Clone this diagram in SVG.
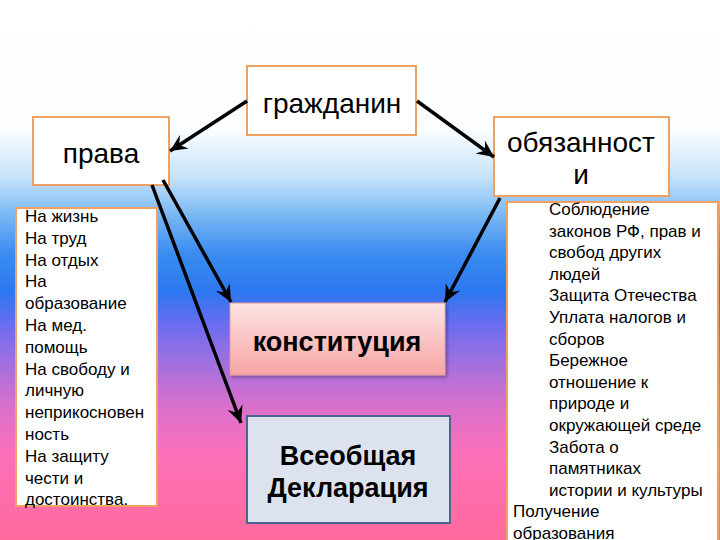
<svg xmlns="http://www.w3.org/2000/svg" width="720" height="540" viewBox="0 0 720 540">
<defs>
<linearGradient id="bg" x1="0" y1="0" x2="0" y2="1">
<stop offset="0" stop-color="#ffffff"/>
<stop offset="0.24" stop-color="#fbfdff"/>
<stop offset="0.33" stop-color="#c4e2fa"/>
<stop offset="0.40" stop-color="#78b6f4"/>
<stop offset="0.47" stop-color="#3a8cf0"/>
<stop offset="0.54" stop-color="#2c78f0"/>
<stop offset="0.60" stop-color="#6a6cf0"/>
<stop offset="0.67" stop-color="#a070e0"/>
<stop offset="0.75" stop-color="#d870cc"/>
<stop offset="0.84" stop-color="#fc70b8"/>
<stop offset="1" stop-color="#ff6a9e"/>
</linearGradient>
<linearGradient id="pink" x1="0" y1="0" x2="0" y2="1">
<stop offset="0" stop-color="#fde4e4"/>
<stop offset="1" stop-color="#f7a4a4"/>
</linearGradient>
<filter id="sh" x="-10%" y="-10%" width="130%" height="130%">
<feDropShadow dx="2" dy="2" stdDeviation="1.5" flood-color="#000" flood-opacity="0.3"/>
</filter>
<marker id="ah" markerUnits="userSpaceOnUse" markerWidth="20" markerHeight="20" viewBox="-18 -10 20 20" refX="0" refY="0" orient="auto">
<path d="M0,0 L-17,-8 L-11,0 L-17,8 Z" fill="#000"/>
</marker>
<style>
.node{fill:#fff;stroke:#f0a060;stroke-width:2}
.t{font-family:"Liberation Sans",Arial,sans-serif;fill:#000}
.big{font-size:28px;text-anchor:middle}
.bold{font-size:27px;font-weight:bold;text-anchor:middle}
.list{font-size:17px}
.conn{stroke:#000;stroke-width:3.5;fill:none;marker-end:url(#ah)}
</style>
</defs>
<rect x="0" y="0" width="720" height="540" fill="url(#bg)"/>

<g id="grazhdanin">
<rect class="node" x="247" y="66" width="169" height="69"/>
<text class="t big" x="332" y="113">гражданин</text>
</g>

<g id="prava">
<rect class="node" x="33" y="117" width="136" height="68"/>
<text class="t big" x="101" y="163">права</text>
</g>

<g id="obyazannosti">
<rect class="node" x="494" y="117" width="175" height="79"/>
<text class="t big" x="581" y="152">обязанност</text>
<text class="t big" x="581" y="184">и</text>
</g>

<g id="prava-list">
<rect class="node" x="16" y="208" width="141" height="298"/>
<text class="t list" x="25">
<tspan x="25" y="222">На жизнь</tspan>
<tspan x="25" y="243.8">На труд</tspan>
<tspan x="25" y="265.6">На отдых</tspan>
<tspan x="25" y="287.4">На</tspan>
<tspan x="25" y="309.2">образование</tspan>
<tspan x="25" y="331">На мед.</tspan>
<tspan x="25" y="352.8">помощь</tspan>
<tspan x="25" y="374.6">На свободу и</tspan>
<tspan x="25" y="396.4">личную</tspan>
<tspan x="25" y="418.2">неприкосновен</tspan>
<tspan x="25" y="440">ность</tspan>
<tspan x="25" y="461.8">На защиту</tspan>
<tspan x="25" y="483.6">чести и</tspan>
<tspan x="25" y="505.4">достоинства.</tspan>
</text>
</g>

<g id="obyaz-list">
<rect class="node" x="507" y="202" width="211" height="345"/>
<text class="t list">
<tspan x="549" y="215">Соблюдение</tspan>
<tspan x="549" y="236.6">законов РФ, прав и</tspan>
<tspan x="549" y="258.2">свобод других</tspan>
<tspan x="549" y="279.8">людей</tspan>
<tspan x="549" y="301.4">Защита Отечества</tspan>
<tspan x="549" y="323">Уплата налогов и</tspan>
<tspan x="549" y="344.6">сборов</tspan>
<tspan x="549" y="366.2">Бережное</tspan>
<tspan x="549" y="387.8">отношение к</tspan>
<tspan x="549" y="409.4">природе и</tspan>
<tspan x="549" y="431">окружающей среде</tspan>
<tspan x="549" y="452.6">Забота о</tspan>
<tspan x="549" y="474.2">памятниках</tspan>
<tspan x="549" y="495.8">истории и культуры</tspan>
<tspan x="513" y="517.4">Получение</tspan>
<tspan x="513" y="539">образования</tspan>
</text>
</g>

<g id="konstitutsiya">
<rect x="230" y="303" width="215" height="72" fill="url(#pink)" stroke="#e09a9a" stroke-width="1" filter="url(#sh)"/>
<text class="t bold" x="337" y="351">конституция</text>
</g>

<g id="deklaratsiya">
<rect x="247" y="416" width="203" height="107" fill="#dce3ef" stroke="#4f6290" stroke-width="2"/>
<text class="t bold" x="348" y="465">Всеобщая</text>
<text class="t bold" x="348" y="497">Декларация</text>
</g>

<g id="connectors">
<line class="conn" x1="247" y1="101" x2="170" y2="151"/>
<line class="conn" x1="417" y1="101" x2="494" y2="157"/>
<line class="conn" x1="163" y1="180" x2="231" y2="302"/>
<line class="conn" x1="152" y1="185" x2="241" y2="423"/>
<line class="conn" x1="500" y1="198" x2="445" y2="302"/>
</g>
</svg>
